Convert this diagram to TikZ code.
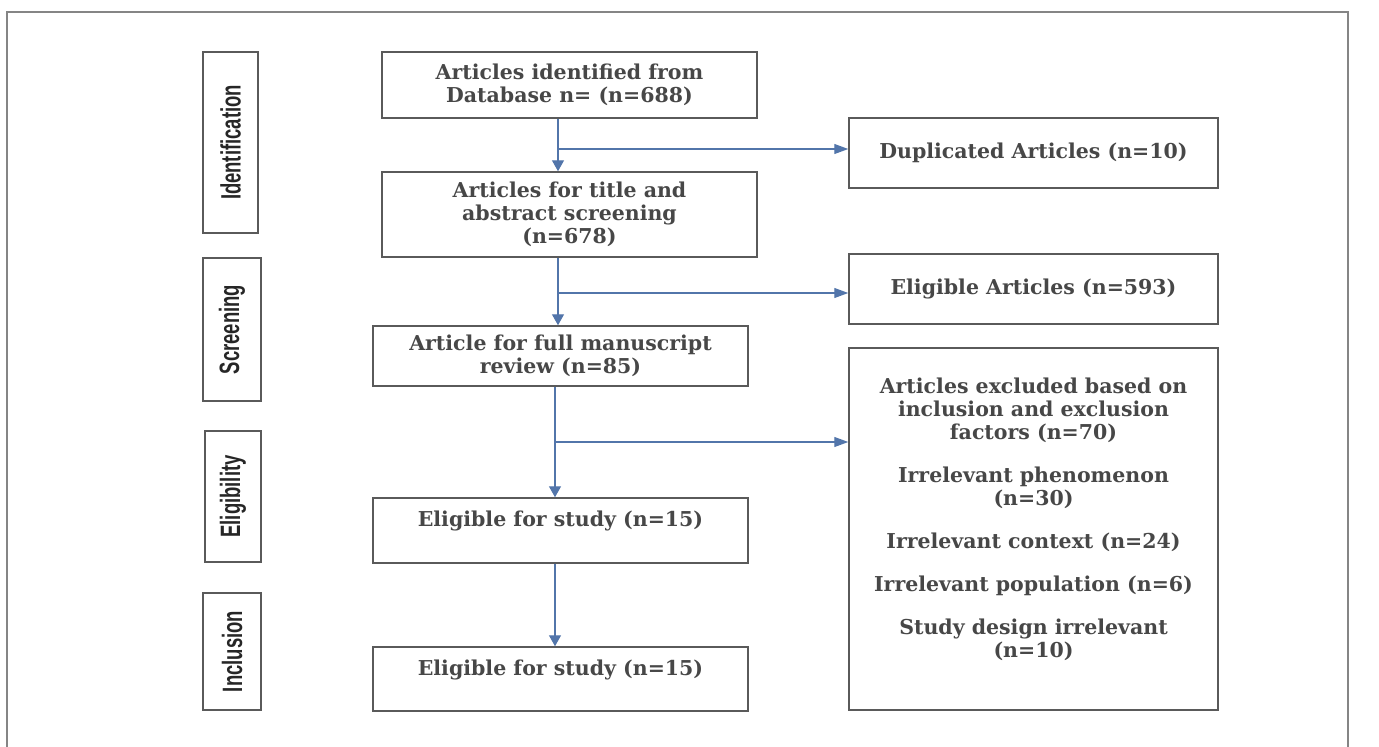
\documentclass[tikz,border=0pt]{standalone}
\usepackage{fontspec}
\setmainfont{DejaVu Serif}
\newfontfamily\sidefont{Liberation Sans}
\usetikzlibrary{arrows.meta}
\definecolor{boxgray}{HTML}{5A5A5A}
\definecolor{txtgray}{HTML}{474747}
\definecolor{arrowblue}{HTML}{5275AA}
\definecolor{framegray}{HTML}{858585}
\begin{document}
\begin{tikzpicture}[x=1pt,y=-1pt,
  mainbox/.style={draw=boxgray,line width=1.5pt,inner sep=0pt,align=center,text=txtgray,
    font=\fontsize{20.5}{23}\selectfont\bfseries,minimum width=#1},
  sidebox/.style={draw=boxgray,line width=1.5pt,inner sep=0pt,rotate=90,text=black!85,
    font=\sidefont\fontsize{28}{28}\selectfont\bfseries},
  flow/.style={draw=arrowblue,line width=1.4pt,-{Triangle[length=11pt,width=12pt]}},
  branch/.style={draw=arrowblue,line width=1.2pt,-{Triangle[length=14pt,width=10pt]}}]
\useasboundingbox (0,0) rectangle (1379,747);
\draw[framegray,line width=1.6pt] (7,752) -- (7,12) -- (1348,12) -- (1348,752);
% side labels
\node[sidebox,minimum width=181pt,minimum height=55pt] (sid) at (230.5,142.5) {\scalebox{0.66}[1]{Identification}};
\node[sidebox,minimum width=143pt,minimum height=58pt] (sscr) at (232,329.5) {\scalebox{0.66}[1]{Screening}};
\node[sidebox,minimum width=131pt,minimum height=56pt] (selig) at (233,496.5) {\scalebox{0.66}[1]{Eligibility}};
\node[sidebox,minimum width=117pt,minimum height=58pt] (sinc) at (232,651.5) {\scalebox{0.66}[1]{Inclusion}};
% main column
\node[mainbox=375pt,minimum height=66pt] (a1) at (569.5,85) {Articles identified from\\Database n= (n=688)};
\node[mainbox=375pt,minimum height=85pt] (a2) at (569.5,214.5) {Articles for title and\\abstract screening\\(n=678)};
\node[mainbox=375pt,minimum height=60pt] (a3) at (560.5,356) {Article for full manuscript\\review (n=85)};
\node[mainbox=375pt,minimum height=65pt] (a4) at (560.5,530.5) {Eligible for study (n=15)\\~};
\node[mainbox=375pt,minimum height=64pt] (a5) at (560.5,679) {Eligible for study (n=15)\\~};
% right column
\node[mainbox=369pt,minimum height=70pt] (r1) at (1033.5,153) {Duplicated Articles (n=10)};
\node[mainbox=369pt,minimum height=70pt] (r2) at (1033.5,289) {Eligible Articles (n=593)};
\node[mainbox=369pt,minimum height=362pt,label={[yshift=10pt,align=center,text=txtgray,font=\fontsize{20.5}{23}\selectfont\bfseries]center:{Articles excluded based on\\inclusion and exclusion\\factors (n=70)\\[20pt]Irrelevant phenomenon\\(n=30)\\[20pt]Irrelevant context (n=24)\\[20pt]Irrelevant population (n=6)\\[20pt]Study design irrelevant\\(n=10)}}] (r3) at (1033.5,529) {};
% trunk coordinates
\coordinate (t1) at (558,149);
\coordinate (t2) at (558,293);
\coordinate (t3) at (555,442);
% vertical arrows
\draw[flow] (a1.south -| t1) -- (a2.north -| t1);
\draw[flow] (a2.south -| t2) -- (a3.north -| t2);
\draw[flow] (a3.south -| t3) -- (a4.north -| t3);
\draw[flow] (a4.south -| t3) -- (a5.north -| t3);
% branches
\draw[branch] (t1) -- (t1 -| r1.west);
\draw[branch] (t2) -- (t2 -| r2.west);
\draw[branch] (t3) -- (t3 -| r3.west);
\end{tikzpicture}
\end{document}
